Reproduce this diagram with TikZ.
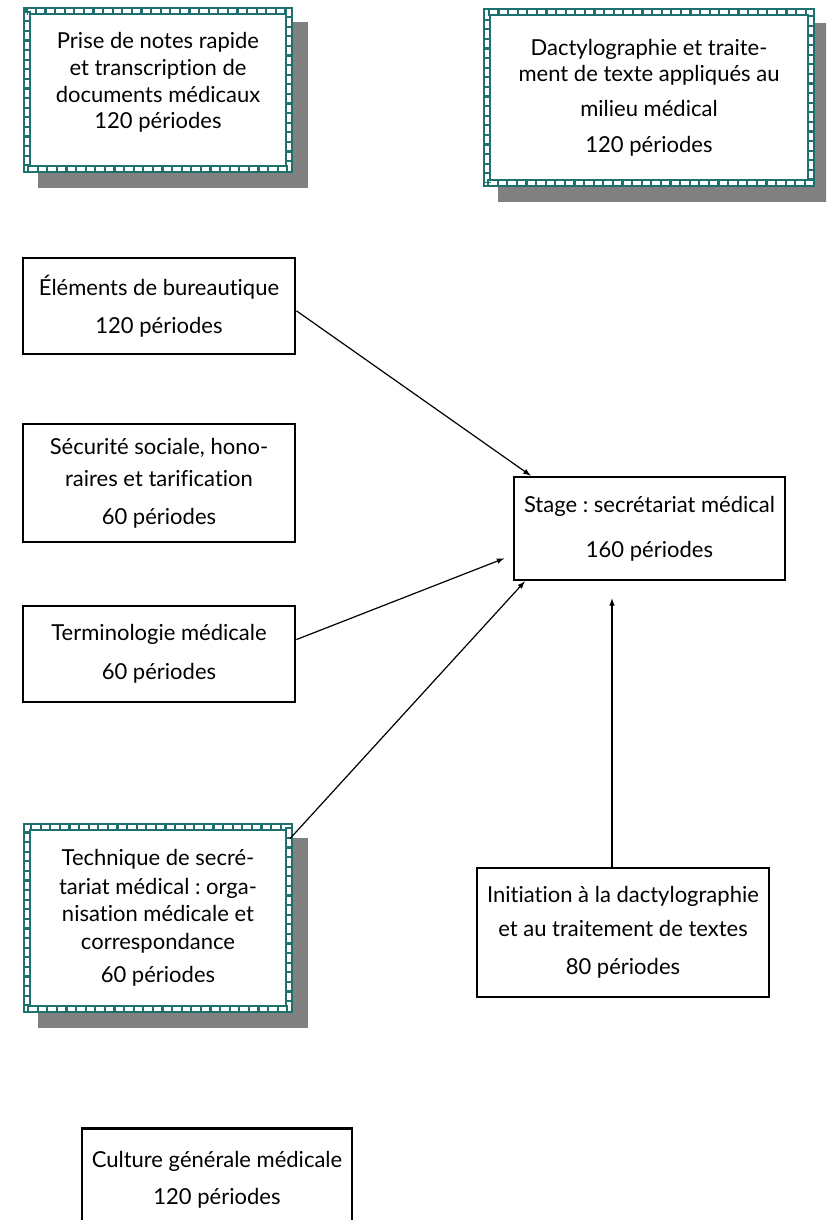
\documentclass[tikz,border=0pt]{standalone}
\usepackage{fontspec}
\setmainfont{Lato}[Ligatures=NoCommon]
\usepackage{tikz}
\usetikzlibrary{shadows}
\definecolor{artteal}{RGB}{30,112,110}
\definecolor{shadowgray}{RGB}{128,128,128}
\frenchspacing

\begin{document}
\begin{tikzpicture}[x=0.75pt, y=-0.75pt,
    every node/.style = {align=center, font=\fontsize{16.5}{20}\selectfont, inner sep=0pt},
    plainbox/.style = {draw, line width=2.1pt, fill=white},
    artbox/.style = {draw=artteal, double=white, double distance=3.2pt, line width=1.3pt, fill=white,
      drop shadow={shadow xshift=11.25pt, shadow yshift=-11.25pt, fill=shadowgray, draw=shadowgray, line width=5.8pt, opacity=1},
      postaction={draw=artteal, line width=5.8pt, dash pattern=on 1.6pt off 5.6pt}},
    arr/.style = {-latex, line width=0.9pt}]
  \useasboundingbox (0,0) rectangle (826,1220);
  \clip (0,0) rectangle (826,1220);
  % modules
  \node[artbox, minimum width=196.5pt, minimum height=118.5pt] (prise) at (158,90)
    {Prise de notes rapide\\et transcription de\\documents médicaux\\120 périodes\\[-6pt]\mbox{}};
  \node[artbox, minimum width=243pt, minimum height=128.25pt] (dactylo) at (649,97.5)
    {Dactylographie et traite-\\ment de texte appliqués au\\[6pt]milieu médical\\[7pt]120 périodes};
  \node[plainbox, minimum width=204pt, minimum height=72pt] (elem) at (159,306)
    {Éléments de bureautique\\[8.5pt]120 périodes};
  \node[plainbox, minimum width=204pt, minimum height=88.5pt] (secu) at (159,483)
    {Sécurité sociale, hono-\\[4pt]raires et tarification\\[8.5pt]60 périodes};
  \node[plainbox, minimum width=204pt, minimum height=72pt] (termi) at (159,654)
    {Terminologie médicale\\[9pt]60 périodes};
  \node[plainbox, minimum width=203.25pt, minimum height=77.25pt] (stage) at (649.5,528.5)
    {Stage : secrétariat médical\\[14pt]160 périodes};
  \node[artbox, minimum width=196.5pt, minimum height=136.5pt] (tech) at (158,918)
    {Technique de secré-\\[2pt]tariat médical : orga-\\nisation médicale et\\[1pt]correspondance\\[5pt]60 périodes};
  \node[plainbox, minimum width=219pt, minimum height=96.75pt] (init) at (623,932.5)
    {Initiation à la dactylographie\\[5pt]et au traitement de textes\\[9pt]80 périodes};
  \node[plainbox, minimum width=202.5pt, minimum height=77.25pt] (culture) at (217,1180)
    {Culture générale médicale\\[8pt]120 périodes};
  % prerequisites
  \draw[arr] (elem.-2) -- (stage.156);
  \draw[arr, shorten >=6.75pt] (termi.6) -- (stage.191);
  \draw[arr] (tech.31) -- (stage.203);
  \draw[arr, shorten >=12.75pt] ([xshift=-8.25pt]init.north) -- ([xshift=-8.25pt]init.north |- stage.south);
\end{tikzpicture}
\end{document}
